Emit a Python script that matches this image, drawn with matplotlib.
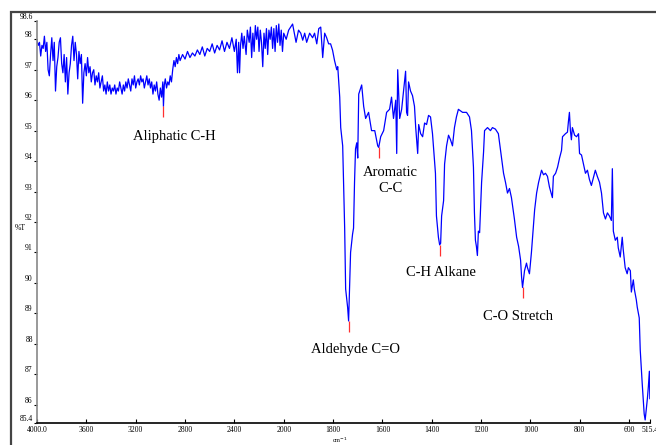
import numpy as np
import matplotlib
matplotlib.use('Agg')
import matplotlib.pyplot as plt
from matplotlib.patches import Rectangle

plt.rcParams['font.family'] = ['Liberation Serif', 'DejaVu Serif']

# spectrum: wavenumber (cm-1) / %T
wavenumber = [
    4000, 3990, 3980, 3970, 3960, 3950, 3940, 3930, 3920, 3910, 3900, 3890, 3880, 3870, 3860,
    3850, 3840, 3830, 3820, 3810, 3800, 3790, 3780, 3770, 3760, 3750, 3740, 3730, 3720, 3710,
    3700, 3690, 3680, 3670, 3660, 3650, 3640, 3630, 3620, 3610, 3600, 3590, 3580, 3570, 3560,
    3550, 3540, 3530, 3520, 3510, 3500, 3490, 3480, 3470, 3460, 3450, 3440, 3430, 3420, 3410,
    3400, 3390, 3380, 3370, 3360, 3350, 3340, 3330, 3320, 3310, 3300, 3290, 3280, 3270, 3260,
    3250, 3240, 3230, 3220, 3210, 3200, 3190, 3180, 3170, 3160, 3150, 3140, 3130, 3120, 3110,
    3100, 3090, 3080, 3070, 3060, 3050, 3040, 3030, 3020, 3010, 3000, 2990, 2980, 2975, 2968,
    2960, 2950, 2940, 2930, 2920, 2910, 2900, 2890, 2880, 2870, 2860, 2850, 2840, 2820, 2800,
    2780, 2760, 2740, 2720, 2700, 2680, 2660, 2640, 2620, 2600, 2580, 2560, 2540, 2520, 2500,
    2480, 2460, 2440, 2420, 2400, 2385, 2375, 2365, 2358, 2350, 2340, 2330, 2320, 2305, 2295,
    2280, 2270, 2260, 2250, 2240, 2230, 2220, 2210, 2200, 2190, 2180, 2170, 2160, 2150, 2140,
    2130, 2120, 2110, 2100, 2090, 2080, 2070, 2060, 2050, 2040, 2030, 2020, 2010, 2000, 1990,
    1980, 1964, 1950, 1940, 1931, 1923, 1915, 1907, 1895, 1883, 1875, 1866, 1858, 1850, 1842,
    1834, 1826, 1818, 1810, 1802, 1794, 1785, 1781, 1773, 1769, 1761, 1753, 1749, 1741, 1737,
    1729, 1721, 1717, 1713, 1709, 1704, 1700, 1696, 1684, 1676, 1668, 1656, 1644, 1631, 1619,
    1615, 1607, 1595, 1583, 1571, 1563, 1555, 1546, 1542, 1538, 1530, 1522, 1506, 1502, 1498,
    1494, 1486, 1478, 1470, 1465, 1457, 1453, 1445, 1437, 1429, 1421, 1413, 1405, 1397, 1389,
    1385, 1381, 1373, 1368, 1364, 1360, 1352, 1348, 1340, 1332, 1324, 1316, 1308, 1300, 1292,
    1275, 1259, 1247, 1239, 1231, 1227, 1223, 1219, 1215, 1211, 1206, 1198, 1190, 1186, 1174,
    1162, 1154, 1142, 1130, 1121, 1109, 1101, 1093, 1085, 1077, 1065, 1056, 1048, 1040, 1036,
    1032, 1024, 1016, 1012, 1004, 996, 983, 975, 967, 955, 947, 939, 931, 923, 911,
    907, 898, 890, 882, 874, 870, 858, 850, 846, 842, 838, 834, 830, 821, 813,
    805, 801, 793, 785, 777, 769, 761, 753, 745, 737, 729, 720, 712, 704, 696,
    688, 680, 672, 668, 664, 656, 648, 644, 636, 628, 624, 616, 608, 603, 595,
    591, 583, 579, 571, 567, 559, 555, 547, 539, 535, 526, 522, 518, 516,
]
transmittance = [
    97.95, 97.8, 97.9, 97.45, 97.8, 97.7, 98.1, 97.6, 97.9, 97.0, 96.8, 97.5, 98.05, 97.3, 97.9,
    96.3, 97.1, 97.4, 97.9, 98.05, 97.2, 96.9, 97.5, 96.6, 97.4, 96.2, 96.9, 97.2, 97.8, 98.1,
    97.3, 97.9, 97.5, 96.7, 97.6, 97.2, 97.5, 95.9, 96.9, 97.2, 96.8, 97.4, 96.9, 97.1, 96.6,
    96.9, 97.0, 96.5, 96.8, 96.6, 96.9, 96.4, 96.6, 96.8, 96.3, 96.5, 96.2, 96.6, 96.3, 96.5,
    96.2, 96.4, 96.3, 96.5, 96.2, 96.4, 96.3, 96.6, 96.4, 96.2, 96.5, 96.3, 96.6, 96.4, 96.7,
    96.5, 96.3, 96.7, 96.5, 96.8, 96.4, 96.6, 96.7, 96.5, 96.8, 96.6, 96.7, 96.4, 96.6, 96.8,
    96.5, 96.7, 96.4, 96.6, 96.2, 96.5, 96.3, 96.6, 96.2, 96.0, 96.4, 96.1, 96.6, 95.8, 96.5,
    96.7, 96.4, 96.6, 96.5, 96.8, 96.6, 97.0, 97.3, 97.1, 97.4, 97.2, 97.5, 97.3, 97.5, 97.35,
    97.6, 97.4, 97.55, 97.45, 97.65, 97.5, 97.75, 97.45, 97.7, 97.6, 97.85, 97.55, 97.8, 97.65, 97.95,
    97.6, 97.9, 97.7, 98.05, 97.6, 98.0, 96.9, 97.9, 96.9, 97.8, 98.2, 97.7, 98.1, 97.5, 98.3,
    97.9, 98.4, 97.4, 98.2, 97.6, 98.45, 98.0, 98.4, 97.6, 98.3, 97.9, 97.1, 98.2, 97.7, 98.35,
    97.5, 98.3, 98.0, 98.4, 97.7, 98.35, 97.6, 98.45, 97.9, 98.5, 97.8, 98.3, 97.6, 98.2, 98.0,
    98.3, 98.5, 97.9, 98.3, 98.2, 97.97, 98.2, 97.9, 98.2, 98.05, 98.2, 97.85, 98.35, 98.4, 97.4,
    98.2, 98.05, 97.85, 97.85, 97.64, 97.3, 97.0, 97.1, 96.1, 95.1, 94.5, 91.8, 89.8, 89.2, 88.75,
    91.0, 91.6, 91.8, 93.3, 94.4, 94.6, 94.1, 96.2, 96.5, 95.8, 95.4, 95.6, 95.0, 95.0, 94.5,
    94.45, 94.8, 95.0, 95.6, 95.7, 96.1, 95.4, 96.0, 94.25, 97.0, 95.4, 95.7, 96.95, 95.6, 95.5,
    96.6, 96.3, 96.15, 95.8, 95.1, 94.25, 95.2, 94.9, 94.8, 95.25, 95.2, 95.5, 95.45, 94.9, 94.0,
    93.6, 92.2, 91.5, 91.25, 91.3, 92.2, 92.7, 93.9, 94.5, 94.85, 94.7, 94.5, 95.1, 95.45, 95.7,
    95.6, 95.6, 95.45, 95.0, 93.8, 92.3, 91.4, 91.2, 90.9, 91.7, 91.65, 93.3, 94.3, 95.0, 95.1,
    95.0, 95.1, 95.05, 94.9, 94.35, 93.6, 93.3, 92.95, 93.1, 92.8, 92.1, 91.5, 91.2, 90.75, 90.2,
    89.85, 90.4, 90.65, 90.5, 90.3, 91.0, 92.4, 92.95, 93.3, 93.7, 93.55, 93.6, 93.5, 93.15, 92.8,
    93.5, 93.6, 93.8, 94.1, 94.35, 94.8, 94.9, 94.95, 95.3, 95.6, 95.0, 94.7, 95.1, 94.85, 94.8,
    94.9, 94.25, 94.2, 93.9, 93.6, 93.7, 93.4, 93.2, 93.45, 93.7, 93.5, 93.3, 92.95, 92.3, 92.1,
    92.3, 92.2, 92.05, 93.75, 91.7, 91.4, 91.5, 91.15, 90.85, 91.5, 91.1, 90.5, 90.3, 90.5, 90.4,
    89.7, 90.1, 89.8, 89.45, 89.2, 88.85, 87.8, 86.7, 85.7, 85.5, 86.2, 86.6, 87.1, 86.2,
]

# marked bands
band_wn = [2975, 1737, 1615, 1368, 1032]
band_t = [95.8, 88.75, 94.45, 91.25, 89.85]
label_text = ['Aliphatic C-H', 'Aldehyde C=O', 'Aromatic\nC-C', 'C-H Alkane', 'C-O Stretch']
label_wn = [2886, 1708, 1567, 1364, 1052]
label_t = [94.8, 87.8, 93.35, 90.33, 88.9]

xtick_vals = [4000, 3600, 3200, 2800, 2400, 2000, 1800, 1600, 1400, 1200, 1000, 800, 600, 515.4]
xtick_text = ['4000.0', '3600', '3200', '2800', '2400', '2000', '1800', '1600', '1400',
              '1200', '1000', '800', '600', '515.4']
ytick_vals = [85.4, 86, 87, 88, 89, 90, 91, 92, 93, 94, 95, 96, 97, 98, 98.6]
ytick_text = ['85.4', '86', '87', '88', '89', '90', '91', '92', '93', '94', '95', '96', '97', '98', '98.6']


# spectrometer style axis: below 2000 cm-1 the scale is stretched 2x
def fwd(w):
    w = np.asarray(w, dtype=float)
    return np.where(w >= 2000, w, 2 * w - 2000)


def inv(u):
    u = np.asarray(u, dtype=float)
    return np.where(u >= 2000, u, (u + 2000) / 2)


fig = plt.figure(figsize=(6.56, 4.45), dpi=100)
fig.patches.append(Rectangle((11 / 656, -0.2), 1.2, 0.973 + 0.2, transform=fig.transFigure,
                             fill=False, edgecolor='#444444', linewidth=1.6))
ax = fig.add_axes([37 / 656, 22 / 445, 613 / 656, 402 / 445])
ax.set_xscale('function', functions=(fwd, inv))

ax.plot(wavenumber, transmittance, color='#0000ff', linewidth=0.9)
ax.vlines(band_wn, np.array(band_t) - 0.35, band_t, color='#ff3030', linewidth=0.9)
for txt, x, y in zip(label_text, label_wn, label_t):
    ax.text(x, y, txt, fontsize=10.5, ha='center', va='center', linespacing=1.3)

ax.set_xlim(4000, 515.4)
ax.set_ylim(85.4, 98.6)
ax.set_xticks(xtick_vals)
ax.set_xticklabels(xtick_text)
ax.set_yticks(ytick_vals)
ax.set_yticklabels(ytick_text)
ax.minorticks_off()
ax.tick_params(axis='x', direction='in', length=3, labelsize=5.5, pad=2.5)
ax.tick_params(axis='y', direction='out', length=2, labelsize=5.5, pad=1)
for lab in ax.get_yticklabels():
    lab.set_verticalalignment('bottom')

for s in ['top', 'right']:
    ax.spines[s].set_visible(False)
ax.spines['left'].set_color('#888888')
ax.spines['left'].set_linewidth(1.2)
ax.spines['bottom'].set_linewidth(1.2)

fig.text(20 / 656, 1 - 228 / 445, '%T', fontsize=5.5, ha='center', va='center')
fig.text(340 / 656, 0.3 / 445, 'cm$^{-1}$', fontsize=4.5, ha='center', va='bottom')

plt.savefig('out.png', dpi=100)
